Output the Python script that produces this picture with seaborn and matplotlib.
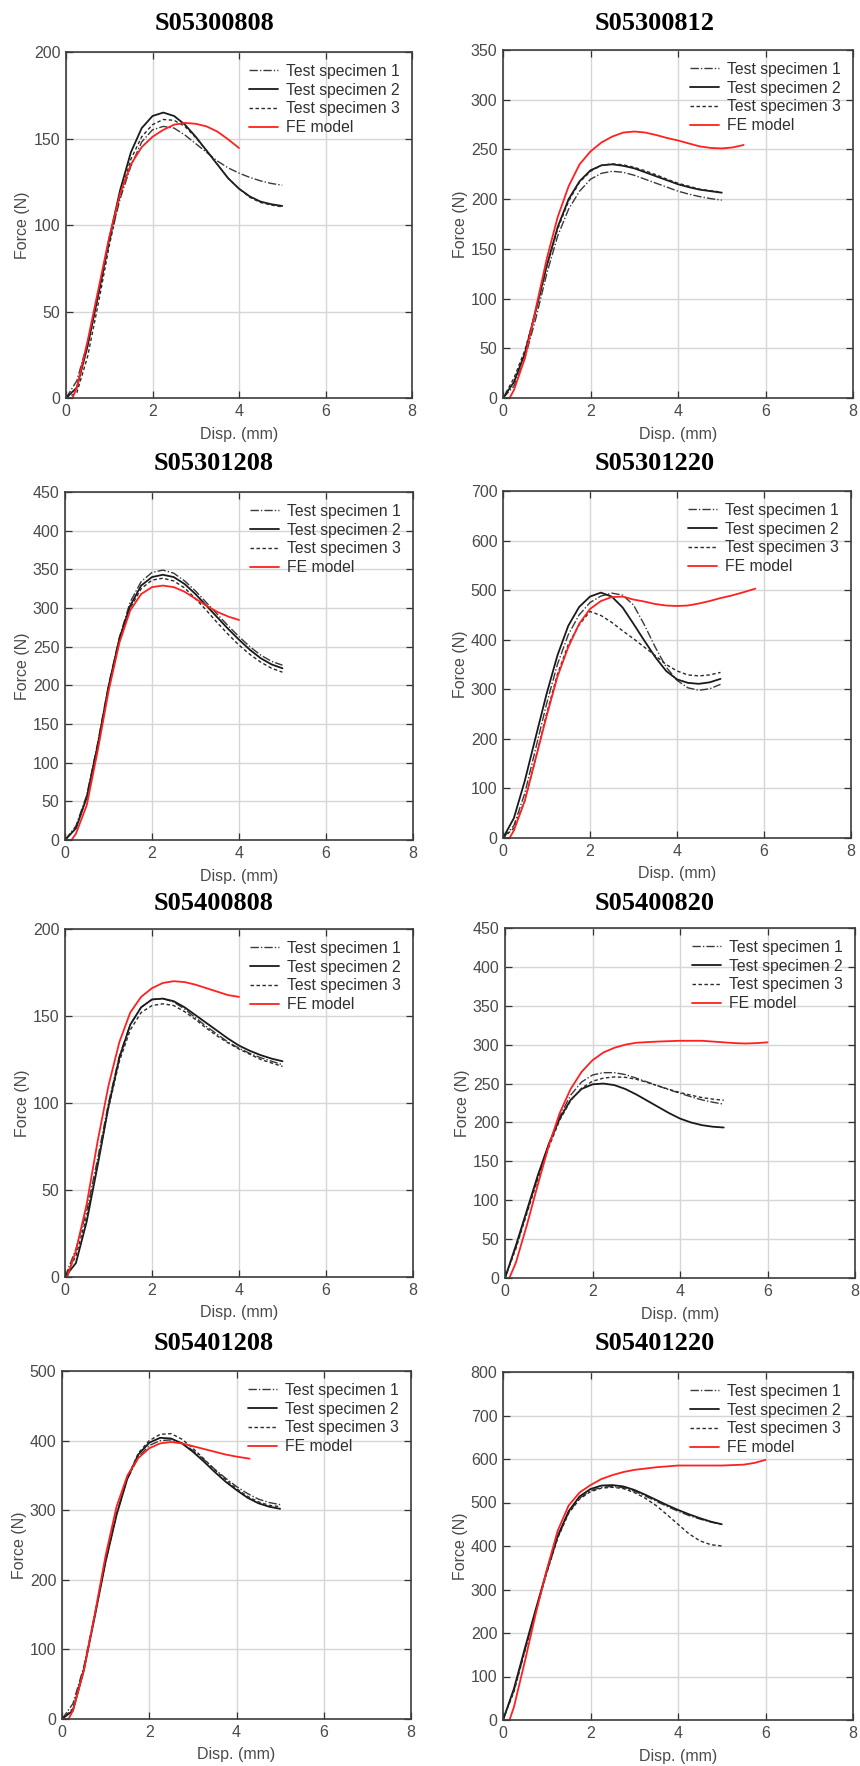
import numpy as np
import pandas as pd
import matplotlib
matplotlib.use("Agg")
import matplotlib.pyplot as plt
import seaborn as sns

sns.set_theme(style="whitegrid")
plt.rcParams['font.family'] = ['Liberation Sans', 'DejaVu Sans']

# Displacement grid (mm) shared by all test specimen curves
disp_test = [0, 0.25, 0.5, 0.75, 1.0, 1.25, 1.5, 1.75, 2.0, 2.25, 2.5,
             2.75, 3.0, 3.25, 3.5, 3.75, 4.0, 4.25, 4.5, 4.75, 5.0]

# ---- S05300808 ----
s05300808_t1 = [0, 10, 32, 60, 90, 115, 134, 148, 155, 157, 156, 152, 147, 142, 137, 133, 130, 127.5, 125.5, 124, 123]
s05300808_t2 = [0, 6, 30, 60, 92, 120, 142, 156, 163, 165, 163, 158, 151, 143, 135, 127, 121, 116.5, 113.5, 112, 111]
s05300808_t3 = [0, 3, 24, 55, 88, 117, 138, 151, 158, 161, 160.5, 157, 150.5, 143, 135, 127, 121, 116, 113, 111.5, 110.5]
s05300808_fe_x = [0, 0.15, 0.25, 0.5, 0.75, 1.0, 1.25, 1.5, 1.75, 2.0, 2.25, 2.5, 2.75, 3.0, 3.25, 3.5, 3.75, 4.0]
s05300808_fe = [0, 0, 6, 33, 63, 93, 118, 135, 145, 151, 155, 158, 159, 158.5, 157, 154, 149.5, 144.5]

# ---- S05300812 ----
s05300812_t1 = [0, 12, 40, 80, 125, 163, 190, 208, 220, 226, 228, 227, 224, 220, 216, 212, 208, 205, 202.5, 200.5, 199]
s05300812_t2 = [0, 16, 45, 88, 133, 172, 200, 218, 229, 234, 235, 233.5, 231, 227, 223, 219, 215, 212, 209.5, 208, 206.5]
s05300812_t3 = [0, 20, 48, 88, 132, 170, 198, 217, 228, 234, 235.5, 234.5, 232, 228.5, 224.5, 220, 216, 213, 210, 208.5, 207]
s05300812_fe_x = [0, 0.15, 0.25, 0.5, 0.75, 1.0, 1.25, 1.5, 1.75, 2.0, 2.25, 2.5, 2.75, 3.0, 3.25, 3.5, 3.75, 4.0, 4.25, 4.5, 4.75, 5.0, 5.25, 5.5]
s05300812_fe = [0, 0, 8, 40, 90, 140, 182, 213, 235, 248, 257, 263, 267, 268, 267, 264.5, 261.5, 259, 256, 253, 251.5, 251, 252, 254.5]

# ---- S05301208 ----
s05301208_t1 = [0, 18, 58, 125, 200, 262, 308, 334, 346, 349, 345, 335, 322, 307, 292, 277, 263, 250, 239, 231, 226]
s05301208_t2 = [0, 15, 55, 122, 198, 260, 303, 329, 340, 343, 340, 331, 318, 303, 288, 273, 259, 246, 235, 227, 222]
s05301208_t3 = [0, 15, 55, 120, 195, 257, 300, 325, 336, 338.5, 335, 326, 312, 297, 281, 266, 252, 240, 230, 222, 217]
s05301208_fe_x = [0, 0.15, 0.25, 0.5, 0.75, 1.0, 1.25, 1.5, 1.75, 2.0, 2.25, 2.5, 2.75, 3.0, 3.25, 3.5, 3.75, 4.0]
s05301208_fe = [0, 0, 8, 45, 115, 192, 255, 297, 318, 327, 329, 327, 321, 312, 303, 295, 289, 284.5]

# ---- S05301220 ----
s05301220_t1 = [0, 25, 90, 180, 270, 350, 410, 450, 475, 488, 494, 490, 470, 430, 385, 345, 318, 303, 298, 301, 310]
s05301220_t2 = [0, 40, 115, 203, 290, 368, 428, 466, 487, 495, 487, 465, 432, 398, 365, 337, 320, 313, 311, 314, 321]
s05301220_t3 = [0, 20, 75, 160, 250, 330, 390, 430, 457, 449, 435, 418, 402, 385, 368, 350, 337, 329, 327, 329, 334]
s05301220_fe_x = [0, 0.15, 0.25, 0.5, 0.75, 1.0, 1.25, 1.5, 1.75, 2.0, 2.25, 2.5, 2.75, 3.0, 3.25, 3.5, 3.75, 4.0, 4.25, 4.5, 4.75, 5.0, 5.25, 5.5, 5.8]
s05301220_fe = [0, 0, 15, 75, 160, 245, 325, 385, 432, 462, 478, 486, 487, 481, 477, 472, 469, 468, 469, 473, 478, 484, 489, 495, 503]

# ---- S05400808 ----
s05400808_t1 = [0, 16, 38, 68, 100, 127, 145, 155, 159.5, 160, 158, 154, 149, 144, 139.5, 135, 131.5, 128.5, 126, 124, 122]
s05400808_t2 = [0, 8, 32, 64, 98, 126, 145, 155, 159.5, 160, 158.5, 155, 150.5, 146, 141.5, 137, 133, 130, 127.5, 125.5, 124]
s05400808_t3 = [0, 12, 35, 65, 97, 124, 142, 152, 156, 157, 156, 152.5, 148, 143, 138.5, 134.5, 131, 128, 125, 123, 121]
s05400808_fe_x = [0, 0.05, 0.25, 0.5, 0.75, 1.0, 1.25, 1.5, 1.75, 2.0, 2.25, 2.5, 2.75, 3.0, 3.25, 3.5, 3.75, 4.0]
s05400808_fe = [0, 0, 15, 42, 78, 110, 135, 152, 161, 166, 169, 170, 169.5, 168, 166, 164, 162, 161]

# ---- S05400820 ----
s05400820_t1 = [0, 40, 85, 130, 172, 208, 235, 252, 261, 264, 264, 261.5, 257, 252, 247, 242, 237.5, 233, 229, 226, 223.5]
s05400820_t2 = [0, 42, 87, 132, 172, 205, 229, 243, 249, 250, 248, 243, 236, 228, 220, 212, 205, 200, 196.5, 194.5, 193.5]
s05400820_t3 = [0, 38, 83, 127, 168, 203, 228, 244, 253, 257, 258.5, 258, 255.5, 251.5, 247, 242.5, 238.5, 235, 232, 230, 228.5]
s05400820_fe_x = [0, 0.1, 0.25, 0.5, 0.75, 1.0, 1.25, 1.5, 1.75, 2.0, 2.25, 2.5, 2.75, 3.0, 3.5, 4.0, 4.5, 5.0, 5.25, 5.5, 5.75, 6.0]
s05400820_fe = [0, 0, 20, 68, 120, 170, 212, 243, 265, 280, 290, 296, 300, 302.5, 304, 305, 305, 303, 302, 301.5, 302, 303]

# ---- S05401208 ----
s05401208_t1 = [0, 22, 75, 150, 228, 295, 345, 376, 393, 400, 401, 396, 386, 373, 359, 346, 334, 324, 316, 311, 308]
s05401208_t2 = [0, 12, 70, 147, 226, 293, 346, 380, 397, 404, 403, 396, 384, 370, 355, 341, 329, 318, 310, 305, 302]
s05401208_t3 = [0, 15, 72, 148, 227, 294, 347, 382, 400, 409, 410, 402, 389, 374, 358, 344, 331, 320, 312, 307, 305]
s05401208_fe_x = [0, 0.15, 0.25, 0.5, 0.75, 1.0, 1.25, 1.5, 1.75, 2.0, 2.25, 2.5, 2.75, 3.0, 3.25, 3.5, 3.75, 4.0, 4.3]
s05401208_fe = [0, 0, 12, 70, 150, 235, 305, 350, 375, 389, 396, 398, 396, 392, 388, 384, 380, 377, 374]

# ---- S05401220 ----
s05401220_t1 = [0, 68, 160, 252, 340, 420, 477, 510, 527, 535, 537, 534, 526, 515, 503, 491, 480, 470, 462, 455, 450]
s05401220_t2 = [0, 72, 165, 255, 343, 423, 480, 514, 531, 539, 540, 537, 529, 518, 506, 494, 483, 473, 464, 456, 450]
s05401220_t3 = [0, 65, 158, 250, 338, 418, 475, 508, 525, 533, 535, 532, 523, 510, 493, 472, 450, 428, 412, 403, 400]
s05401220_fe_x = [0, 0.15, 0.25, 0.5, 0.75, 1.0, 1.25, 1.5, 1.75, 2.0, 2.25, 2.5, 2.75, 3.0, 3.5, 4.0, 4.5, 5.0, 5.5, 5.75, 6.0]
s05401220_fe = [0, 0, 30, 135, 245, 345, 435, 493, 523, 540, 554, 563, 570, 575, 581, 585, 585, 585, 587, 591, 598]

panels = [
    ("S05300808", s05300808_t1, s05300808_t2, s05300808_t3, s05300808_fe_x, s05300808_fe, 200, 50),
    ("S05300812", s05300812_t1, s05300812_t2, s05300812_t3, s05300812_fe_x, s05300812_fe, 350, 50),
    ("S05301208", s05301208_t1, s05301208_t2, s05301208_t3, s05301208_fe_x, s05301208_fe, 450, 50),
    ("S05301220", s05301220_t1, s05301220_t2, s05301220_t3, s05301220_fe_x, s05301220_fe, 700, 100),
    ("S05400808", s05400808_t1, s05400808_t2, s05400808_t3, s05400808_fe_x, s05400808_fe, 200, 50),
    ("S05400820", s05400820_t1, s05400820_t2, s05400820_t3, s05400820_fe_x, s05400820_fe, 450, 50),
    ("S05401208", s05401208_t1, s05401208_t2, s05401208_t3, s05401208_fe_x, s05401208_fe, 500, 100),
    ("S05401220", s05401220_t1, s05401220_t2, s05401220_t3, s05401220_fe_x, s05401220_fe, 800, 100),
]

# Axes boxes in pixels: left, right, top, bottom
boxes = [
    (66, 412, 52, 398), (503, 853, 50, 398),
    (65, 413, 492, 840), (503, 851, 491, 838),
    (65, 413, 929, 1277), (505, 855, 928, 1278),
    (62, 411, 1371, 1719), (503, 853, 1372, 1720),
]
title_pos = [(214, 23), (655, 23), (214, 463), (655, 463),
             (214, 903), (655, 903), (214, 1343), (655, 1343)]

W, H = 860, 1766
fig = plt.figure(figsize=(W / 100, H / 100), dpi=100)
fig.patch.set_facecolor("white")

styles = [
    ("Test specimen 1", "#3a3a3a", (0, (6, 1.5, 1, 1.5)), 1.0),
    ("Test specimen 2", "#1a1a1a", "-", 1.3),
    ("Test specimen 3", "#2a2a2a", (0, (2.5, 1.8)), 1.0),
]
tick_color = "#4a4a4a"

for (name, t1, t2, t3, fex, fe, ymax, ystep), (l, r, t, b), (tx, ty) in zip(panels, boxes, title_pos):
    ax = fig.add_axes([l / W, 1 - b / H, (r - l) / W, (b - t) / H])
    ax.set_facecolor("white")
    for (lab, col, ls, lw), yv in zip(styles, (t1, t2, t3)):
        df = pd.DataFrame({"x": disp_test, "y": yv})
        sns.lineplot(data=df, x="x", y="y", ax=ax, color=col, linestyle=ls,
                     linewidth=lw, label=lab, estimator=None, sort=False)
    dfe = pd.DataFrame({"x": fex, "y": fe})
    sns.lineplot(data=dfe, x="x", y="y", ax=ax, color="#ff2020", linestyle="-",
                 linewidth=1.3, label="FE model", estimator=None, sort=False)

    ax.set_xlim(0, 8)
    ax.set_ylim(0, ymax)
    ax.set_xticks(np.arange(0, 9, 2))
    ax.set_yticks(np.arange(0, ymax + 1, ystep))
    ax.grid(True, color="#d6d6d6", linewidth=1.0)
    ax.tick_params(direction="in", length=5, width=0.9, colors="#333333",
                   labelcolor=tick_color, labelsize=11.5, top=True, right=True,
                   bottom=True, left=True, pad=4)
    for sp in ax.spines.values():
        sp.set_color("#3c3c3c")
        sp.set_linewidth(1.2)
    ax.set_xlabel("Disp. (mm)", fontsize=11.5, color=tick_color)
    ax.set_ylabel("Force (N)", fontsize=11.5, color=tick_color)
    ax.xaxis.set_label_coords(0.5, -36 / (b - t))
    ax.xaxis.label.set_va("center")
    ax.yaxis.set_label_coords(-43 / (r - l), 0.5)
    ax.yaxis.label.set_va("center")
    leg = ax.legend(loc="upper right", frameon=False, fontsize=11.3,
                    handlelength=1.9, labelspacing=0.24, handletextpad=0.5,
                    borderaxespad=0.38, borderpad=0.38)
    for txt in leg.get_texts():
        txt.set_color("#303030")
    fig.text(tx / W, 1 - ty / H, name, ha="center", va="center",
             fontsize=19, fontweight="bold", family="Liberation Serif", color="black")

fig.savefig("out.png", dpi=100, facecolor="white")
